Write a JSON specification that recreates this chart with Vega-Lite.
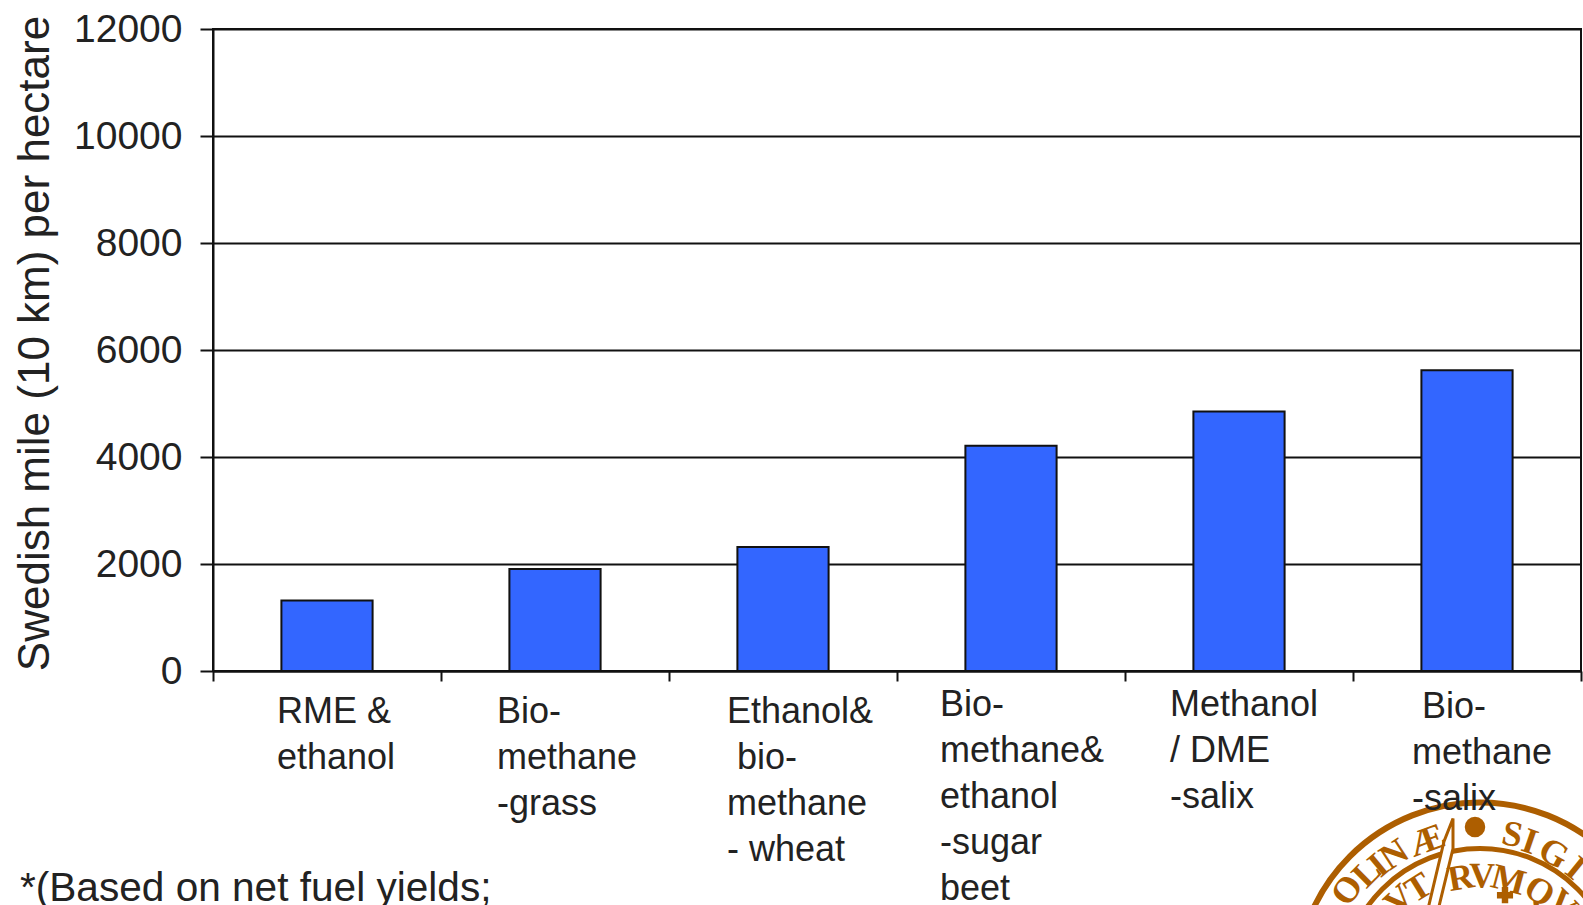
{
  "$schema": "https://vega.github.io/schema/vega-lite/v6.json",
  "width": 1368,
  "height": 642,
  "padding": {"left": 213, "top": 29, "right": 2, "bottom": 234},
  "autosize": "none",
  "background": "white",
  "config": {
    "view": {"stroke": "#111111", "strokeWidth": 2},
    "text": {"font": "Liberation Sans"}
  },
  "datasets": {
    "yields": [
      {"fuel": "RME & ethanol", "label": "RME &\nethanol", "miles": 1320},
      {"fuel": "Bio-methane -grass", "label": "Bio-\nmethane\n-grass", "miles": 1905},
      {"fuel": "Ethanol & bio-methane - wheat", "label": "Ethanol&\n\u200b\u00a0bio-\nmethane\n- wheat", "miles": 2320},
      {"fuel": "Bio-methane & ethanol -sugar beet", "label": "Bio-\nmethane&\nethanol\n-sugar\nbeet", "miles": 4210},
      {"fuel": "Methanol / DME -salix", "label": "Methanol\n/ DME\n-salix", "miles": 4850},
      {"fuel": "Bio-methane -salix", "label": "\u200b\u00a0Bio-\nmethane\n-salix", "miles": 5620}
    ],
    "sealLetters": [
      {"ch": "O", "bearing": 306, "r": 164},
      {"ch": "L", "bearing": 315, "r": 160},
      {"ch": "I", "bearing": 320, "r": 158},
      {"ch": "N", "bearing": 327, "r": 157},
      {"ch": "Æ", "bearing": 340, "r": 155},
      {"ch": "S", "bearing": 12, "r": 155},
      {"ch": "I", "bearing": 19, "r": 153},
      {"ch": "G", "bearing": 29, "r": 152},
      {"ch": "I", "bearing": 39, "r": 152},
      {"ch": "V", "bearing": 317, "r": 118},
      {"ch": "T", "bearing": 328, "r": 116},
      {"ch": "R", "bearing": 350, "r": 110},
      {"ch": "V", "bearing": 1, "r": 110},
      {"ch": "M", "bearing": 15, "r": 110},
      {"ch": "Q", "bearing": 32, "r": 112},
      {"ch": "V", "bearing": 45, "r": 116}
    ]
  },
  "data": {"name": "yields"},
  "encoding": {
    "x": {
      "field": "fuel",
      "type": "nominal",
      "sort": null,
      "scale": {"paddingInner": 0, "paddingOuter": 0},
      "axis": {
        "labels": false,
        "title": null,
        "tickBand": "extent",
        "tickSize": 10,
        "tickColor": "#111111",
        "tickWidth": 2,
        "domainColor": "#111111",
        "domainWidth": 2
      }
    }
  },
  "layer": [
    {
      "mark": {"type": "bar", "fill": "#3366ff", "stroke": "#111111", "strokeWidth": 2, "width": {"band": 0.4}},
      "encoding": {
        "y": {
          "field": "miles",
          "type": "quantitative",
          "scale": {"domain": [0, 12000], "nice": false},
          "axis": {
            "title": "Swedish mile (10 km) per hectare",
            "titleFont": "Liberation Sans",
            "titleFontWeight": "normal",
            "titleFontSize": 44,
            "titleColor": "#222222",
            "titleX": -165,
            "titleY": 314,
            "titleAlign": "center",
            "titleBaseline": "alphabetic",
            "values": [0, 2000, 4000, 6000, 8000, 10000, 12000],
            "format": "d",
            "grid": true,
            "gridColor": "#111111",
            "gridWidth": 2,
            "tickSize": 13,
            "tickColor": "#111111",
            "tickWidth": 2,
            "domainColor": "#111111",
            "domainWidth": 2,
            "labelFont": "Liberation Sans",
            "labelFontSize": 39,
            "labelColor": "#222222",
            "labelPadding": 18
          }
        }
      }
    },
    {
      "mark": {"type": "point", "filled": false, "stroke": "#ad5e00", "opacity": 1, "strokeWidth": 6, "size": 135424, "clip": false, "xOffset": 13},
      "data": {"values": [{"part": "outer ring"}]},
      "encoding": {
        "x": {"datum": "Bio-methane -salix"},
        "y": {"datum": -5897}
      }
    },
    {
      "mark": {"type": "point", "filled": false, "stroke": "#ad5e00", "opacity": 1, "strokeWidth": 5, "size": 76176, "clip": false, "xOffset": 13},
      "data": {"values": [{"part": "inner ring"}]},
      "encoding": {
        "x": {"datum": "Bio-methane -salix"},
        "y": {"datum": -5897}
      }
    },
    {
      "mark": {
        "type": "point",
        "filled": false,
        "stroke": "#ad5e00",
        "opacity": 1,
        "strokeWidth": 3,
        "size": 40000,
        "xOffset": 13,
        "fill": "white",
        "fillOpacity": 1,
        "shape": "M-0.27,-1.68 L-0.27,-1.38 L-0.58,-0.1 L-0.68,-0.1 L-0.36,-1.45 Z"
      },
      "data": {"values": [{"part": "sword"}]},
      "encoding": {
        "x": {"datum": "Bio-methane -salix"},
        "y": {"datum": -5897}
      }
    },
    {
      "mark": {"type": "point", "filled": true, "fill": "#ad5e00", "opacity": 1, "shape": "circle", "size": 420, "xOffset": 8},
      "data": {"values": [{"part": "seal dot"}]},
      "encoding": {
        "x": {"datum": "Bio-methane -salix"},
        "y": {"datum": -2915}
      }
    },
    {
      "mark": {"type": "point", "filled": true, "fill": "#ad5e00", "opacity": 1, "shape": "cross", "size": 260, "xOffset": 38},
      "data": {"values": [{"part": "seal cross"}]},
      "encoding": {
        "x": {"datum": "Bio-methane -salix"},
        "y": {"datum": -4190}
      }
    },
    {
      "mark": {
        "type": "text",
        "font": "Liberation Serif",
        "fontWeight": "bold",
        "fontSize": 36,
        "align": "center",
        "baseline": "middle",
        "xOffset": 13,
        "fill": "#ad5e00"
      },
      "data": {"name": "sealLetters"},
      "encoding": {
        "x": {"datum": "Bio-methane -salix"},
        "y": {"datum": -5897},
        "text": {"field": "ch"},
        "theta": {"field": "bearing", "type": "quantitative", "scale": {"domain": [0, 360], "range": [0, 6.283185]}},
        "radius": {"field": "r", "type": "quantitative", "scale": {"type": "linear", "domain": [0, 200], "range": [0, 200]}},
        "angle": {"field": "bearing", "type": "quantitative", "scale": {"domain": [0, 360], "range": [0, 360]}}
      }
    },
    {
      "transform": [{"filter": "datum.fuel === 'RME & ethanol'"}],
      "mark": {"type": "text", "fontSize": 36, "fill": "#222222", "align": "left", "baseline": "alphabetic", "lineBreak": "\n", "lineHeight": 46, "dx": -50, "dy": 52},
      "encoding": {"text": {"field": "label"}, "y": {"datum": 0}}
    },
    {
      "transform": [{"filter": "datum.fuel === 'Bio-methane -grass'"}],
      "mark": {"type": "text", "fontSize": 36, "fill": "#222222", "align": "left", "baseline": "alphabetic", "lineBreak": "\n", "lineHeight": 46, "dx": -58, "dy": 52},
      "encoding": {"text": {"field": "label"}, "y": {"datum": 0}}
    },
    {
      "transform": [{"filter": "datum.fuel === 'Ethanol & bio-methane - wheat'"}],
      "mark": {"type": "text", "fontSize": 36, "fill": "#222222", "align": "left", "baseline": "alphabetic", "lineBreak": "\n", "lineHeight": 46, "dx": -56, "dy": 52},
      "encoding": {"text": {"field": "label"}, "y": {"datum": 0}}
    },
    {
      "transform": [{"filter": "datum.fuel === 'Bio-methane & ethanol -sugar beet'"}],
      "mark": {"type": "text", "fontSize": 36, "fill": "#222222", "align": "left", "baseline": "alphabetic", "lineBreak": "\n", "lineHeight": 46, "dx": -71, "dy": 45},
      "encoding": {"text": {"field": "label"}, "y": {"datum": 0}}
    },
    {
      "transform": [{"filter": "datum.fuel === 'Methanol / DME -salix'"}],
      "mark": {"type": "text", "fontSize": 36, "fill": "#222222", "align": "left", "baseline": "alphabetic", "lineBreak": "\n", "lineHeight": 46, "dx": -69, "dy": 45},
      "encoding": {"text": {"field": "label"}, "y": {"datum": 0}}
    },
    {
      "transform": [{"filter": "datum.fuel === 'Bio-methane -salix'"}],
      "mark": {"type": "text", "fontSize": 36, "fill": "#222222", "align": "left", "baseline": "alphabetic", "lineBreak": "\n", "lineHeight": 46, "dx": -55, "dy": 47},
      "encoding": {"text": {"field": "label"}, "y": {"datum": 0}}
    },
    {
      "transform": [{"filter": "datum.fuel === 'RME & ethanol'"}],
      "mark": {"type": "text", "fontSize": 40.6, "fill": "#222222", "align": "left", "baseline": "alphabetic", "dx": -307, "dy": 230},
      "encoding": {"text": {"value": "*(Based on net fuel yields;"}, "y": {"datum": 0}}
    }
  ]
}
